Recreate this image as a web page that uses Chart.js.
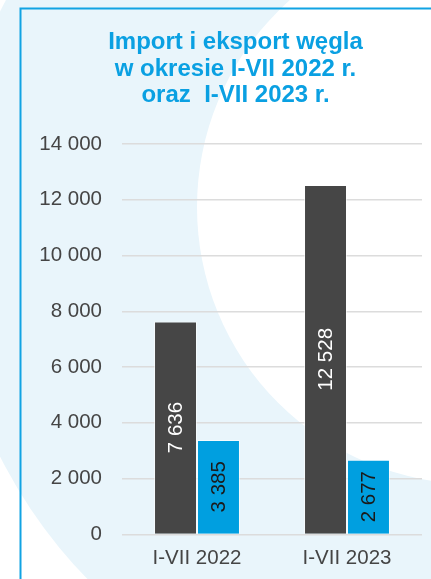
<!DOCTYPE html>
<html>
<head>
<meta charset="utf-8">
<script src="https://cdn.jsdelivr.net/npm/chart.js@4"></script>
<style>
  html, body { margin: 0; padding: 0; background: #fff; }
  canvas { display: block; }
</style>
</head>
<body>
<canvas id="coalChart" width="431" height="579"></canvas>
<script>
var categories = ["I-VII 2022", "I-VII 2023"];
var importValues = [7636, 12528];
var exportValues = [3385, 2677];
var yTicks = [0, 2000, 4000, 6000, 8000, 10000, 12000, 14000];
var titleLines = ["Import i eksport węgla", "w okresie I-VII 2022 r.", "oraz  I-VII 2023 r."];

function fmt(v){
    return String(v).replace(/\B(?=(\d{3})+(?!\d))/g, ' ');
}

var FONT = '"Liberation Sans", Arial, sans-serif';

// background: pale blue shape, white arc and the blue frame
var background = {
    id: 'background',
    beforeDraw: function(chart){
        var c = chart.ctx;
        c.save();
        c.fillStyle = '#ffffff';
        c.fillRect(0, 0, chart.width, chart.height);
        c.fillStyle = '#e9f5fb';
        c.beginPath();
        c.arc(441, 234, 494, 0, Math.PI * 2);
        c.fill();
        c.fillStyle = '#ffffff';
        c.beginPath();
        c.arc(474, 207, 277, 0, Math.PI * 2);
        c.fill();
        c.strokeStyle = '#11a3e3';
        c.lineWidth = 2;
        c.beginPath();
        c.moveTo(20.5, chart.height);
        c.lineTo(20.5, 8.5);
        c.lineTo(chart.width, 8.5);
        c.stroke();
        c.restore();
    }
};

// title is centred a bit right of the canvas middle
var titleShift = {
    id: 'titleShift',
    afterLayout: function(chart){
        if (chart.titleBlock) {
            chart.titleBlock.left = 49;
            chart.titleBlock.right = 422;
        }
    }
};

// rotated value labels inside the bars
var barLabels = {
    id: 'barLabels',
    afterDatasetsDraw: function(chart){
        var c = chart.ctx;
        chart.data.datasets.forEach(function(ds, i){
            var meta = chart.getDatasetMeta(i);
            meta.data.forEach(function(bar, j){
                var cy = (bar.y + bar.base) / 2;
                c.save();
                c.translate(bar.x, cy);
                c.rotate(-Math.PI / 2);
                c.font = '20.5px ' + FONT;
                c.fillStyle = ds.labelColor;
                c.textAlign = 'center';
                c.textBaseline = 'middle';
                c.fillText(fmt(ds.data[j]), 0, 1);
                c.restore();
            });
        });
    }
};

var ctx = document.getElementById("coalChart");
var coalChart = new Chart(ctx, {
    type: 'bar',
    data: {
        labels: categories,
        datasets: [{
            label: 'Import',
            data: importValues,
            backgroundColor: '#464646',
            borderColor: 'rgba(255,255,255,0.55)',
            borderWidth: 1,
            labelColor: '#ffffff',
            barPercentage: 1,
            categoryPercentage: 0.573
        }, {
            label: 'Eksport',
            data: exportValues,
            backgroundColor: '#009fe0',
            borderColor: 'rgba(255,255,255,0.55)',
            borderWidth: 1,
            labelColor: '#1a1a1a',
            barPercentage: 1,
            categoryPercentage: 0.573
        }]
    },
    options: {
        responsive: false,
        animation: false,
        layout: {
            padding: { left: 22, right: 9, top: 0, bottom: -4 }
        },
        plugins: {
            legend: { display: false },
            tooltip: { enabled: false },
            title: {
                display: true,
                text: titleLines,
                color: '#0aa0e2',
                font: { family: FONT, size: 24, weight: 'bold', lineHeight: 1.11 },
                padding: { top: 29, bottom: 35 }
            }
        },
        scales: {
            x: {
                grid: { display: false, drawTicks: false },
                border: { display: false },
                ticks: {
                    color: '#454545',
                    font: { family: FONT, size: 20.5 },
                    padding: 12,
                    maxRotation: 0,
                    autoSkip: false
                }
            },
            y: {
                min: 0,
                max: yTicks[yTicks.length - 1],
                afterFit: function(scale){ scale.width = 100; },
                afterBuildTicks: function(scale){
                    scale.ticks = yTicks.map(function(v){ return { value: v }; });
                },
                grid: { color: '#dcdcdc', lineWidth: 1.5, drawTicks: false },
                border: { display: false },
                ticks: {
                    color: '#454545',
                    font: { family: FONT, size: 20.5 },
                    padding: 20,
                    callback: function(value){ return fmt(value); }
                }
            }
        }
    },
    plugins: [background, titleShift, barLabels]
});
</script>
</body>
</html>
